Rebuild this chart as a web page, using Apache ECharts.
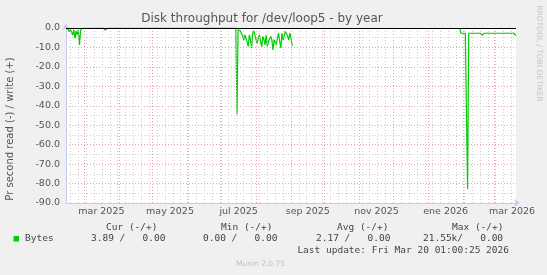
<!DOCTYPE html>
<html>
<head>
<meta charset="utf-8">
<script src="https://cdn.jsdelivr.net/npm/echarts@6/dist/echarts.min.js"></script>
<style>
html,body{margin:0;padding:0;background:#f0f0f0;}
#c{width:547px;height:275px;}
</style>
</head>
<body>
<div id="c"></div>
<script>
// ---- data ----
const rangeStart = '2025-02-13T01:00';
const rangeEnd = '2026-03-20T01:00';
const yTicks = [0, -10, -20, -30, -40, -50, -60, -70, -80, -90];
const monthStarts = ['2025-03-01','2025-04-01','2025-05-01','2025-06-01','2025-07-01','2025-08-01','2025-09-01','2025-10-01','2025-11-01','2025-12-01','2026-01-01','2026-02-01','2026-03-01','2026-04-01'];
const monthLabels = ['mar 2025','may 2025','jul 2025','sep 2025','nov 2025','ene 2026','mar 2026'];
const monthLabelStarts = ['2025-03-01','2025-05-01','2025-07-01','2025-09-01','2025-11-01','2026-01-01','2026-03-01'];
const firstWeekLine = '2025-02-17';

// daily read values (negated), per segment
const febStart = '2025-02-14';
const febValues = [0, -0.5, -1.9, -0.8, -2, -3.6, -1, -5.3, -1.5, -3.5, -1, -8.7, -1.5, -0.2, 0];
const marStart = '2025-03-18';
const marValues = [0, 0, -1, 0, 0];
const julStart = '2025-07-14';
const julValues = [0, -44.4, -1,
  -1, -1.5, -1, -4, -6.2, -3.5, -2.7, -7, -9.6, -3.5,
  -6, -10.3, -2.7, -1.5, -1, -6, -7.9, -5, -3.6, -7,
  -9.6, -4.3, -6, -8.7, -3.6, -9.6, -7, -6.9, -4.3, -6,
  -11.3, -6, -5, -8.7, -5, -2.7, -7, -10.3, -2.7, -6.2,
  -4, -1.8, -1, -4, -6.2, -2.7, -5, -8.7, -8.7];
const janStart = '2026-01-29';
const janValues = [0, -2.7, -2.7, -2.7, -2.7, -2.7, -2.7, -82.8,
  -2.7, -2.7, -2.7, -2.7, -2.7, -2.7, -2.7, -2.7, -2.7, -2.7, -2.7, -2.7,
  -3.6,
  -2.7, -2.7, -2.7, -2.7, -2.7, -2.7, -2.7, -2.7, -2.7, -2.7, -2.7, -2.7, -2.7, -2.7, -2.7, -2.7,
  -3.6,
  -2.7, -2.7, -2.7, -2.7, -2.7, -2.7, -2.7, -2.7, -2.7, -2.7, -2.7, -2.7,
  -3.9];

const legendHeaders = ['Cur (-/+)', 'Min (-/+)', 'Avg (-/+)', 'Max (-/+)'];
const legendValues = ['3.89 /   0.00', '0.00 /   0.00', '2.17 /   0.00', '21.55k/   0.00'];
const legendName = 'Bytes';
const lastUpdate = 'Last update: Fri Mar 20 01:00:25 2026';
const titleText = 'Disk throughput for /dev/loop5 - by year';
const yName = 'Pr second read (-) / write (+)';

// ---- helpers ----
function ts(s) {
  const [d, t] = s.split('T');
  const [y, m, dd] = d.split('-').map(Number);
  const h = t ? Number(t.split(':')[0]) : 0;
  return Date.UTC(y, m - 1, dd, h);
}
function seg(start, vals) {
  const base = ts(start);
  return vals.map((v, i) => [base + i * 86400000, v]);
}
const gapAfterJul = ts(julStart) + julValues.length * 86400000;
const readData = [].concat(seg(febStart, febValues), seg(marStart, marValues), seg(julStart, julValues),
  [[gapAfterJul, '-']], seg(janStart, janValues));

const xMin = ts(rangeStart), xMax = ts(rangeEnd);
const weekLines = [];
for (let t = ts(firstWeekLine); t < xMax; t += 7 * 86400000) weekLines.push(t);

const RED = '#e7a3a3', GRAY = '#cfcfcf', AXIS = '#c8c8f4', TXT = '#555555';

const chart = echarts.init(document.getElementById('c'), null, {renderer: 'canvas'});
chart.setOption({
  backgroundColor: '#f0f0f0',
  animation: false,
  grid: {left: 66, top: 28, width: 450, height: 175, show: true, backgroundColor: '#ffffff', borderWidth: 0},
  xAxis: {
    type: 'value', min: xMin, max: xMax,
    axisLabel: {show: false}, axisTick: {show: false}, splitLine: {show: false},
    axisLine: {show: true, onZero: false, lineStyle: {color: AXIS, width: 1}, symbol: ['none', 'arrow'], symbolSize: [6, 6], symbolOffset: [0, 4]}
  },
  yAxis: {
    type: 'value', min: -90, max: 0, interval: 10,
    axisLabel: {color: TXT, fontFamily: 'DejaVu Sans', fontSize: 9.5, margin: 6, formatter: v => v.toFixed(1)},
    axisTick: {show: false},
    axisLine: {show: true, lineStyle: {color: AXIS, width: 1}, symbol: ['none', 'arrow'], symbolSize: [6, 6], symbolOffset: [0, 4]},
    splitLine: {show: true, lineStyle: {color: RED, type: [1, 2], width: 1}},
    minorTick: {show: false, splitNumber: 2},
    minorSplitLine: {show: true, lineStyle: {color: GRAY, type: [1, 2], width: 1}}
  },
  series: [
    {
      type: 'line', name: 'grid', data: [], z: 1, silent: true,
      markLine: {
        silent: true, symbol: 'none', label: {show: false}, animation: false,
        data: weekLines.map(t => ({xAxis: t, lineStyle: {color: GRAY, type: [1, 2], width: 1}}))
          .concat(monthStarts.filter(s => ts(s) < xMax).map(s => ({xAxis: ts(s), lineStyle: {color: RED, type: [1, 2], width: 1}})))
      }
    },
    {
      type: 'line', name: legendName, data: readData, z: 3, showSymbol: false, symbol: 'none',
      connectNulls: false,
      lineStyle: {color: '#00cc00', width: 1.2},
      markLine: {
        silent: true, symbol: 'none', label: {show: false},
        data: [{yAxis: 0, lineStyle: {color: '#000000', type: 'solid', width: 1}}]
      }
    }
  ]
});

// labels positioned through the chart's own scales
const graphics = [];
monthLabels.forEach((lab, i) => {
  const s = monthLabelStarts[i];
  const idx = monthStarts.indexOf(s);
  const a = chart.convertToPixel({gridIndex: 0}, [ts(s), -90]);
  const b = chart.convertToPixel({gridIndex: 0}, [ts(monthStarts[idx + 1]), -90]);
  graphics.push({type: 'text', x: (a[0] + b[0]) / 2, y: a[1] + 9, style: {text: lab, fill: TXT, font: '9.5px "DejaVu Sans"', textAlign: 'center', textVerticalAlign: 'middle'}});
});
graphics.push({type: 'text', x: 262, y: 19, style: {text: titleText, fill: TXT, font: '12px "DejaVu Sans"', textAlign: 'center', textVerticalAlign: 'middle'}});
graphics.push({type: 'text', x: 10, y: 129, rotation: Math.PI / 2, style: {text: yName, fill: TXT, font: '10px "DejaVu Sans"', textAlign: 'center', textVerticalAlign: 'middle'}});
graphics.push({type: 'text', x: 538.5, y: 53.5, rotation: -Math.PI / 2, style: {text: 'RRDTOOL / TOBI OETIKER', fill: '#c4c4c4', font: '7.5px "DejaVu Sans"', textAlign: 'center', textVerticalAlign: 'middle'}});
// legend
const MONO = '9.5px "DejaVu Sans Mono"';
const headerX = [106, 221, 337, 452];
const valueX = [91, 203, 316, 423];
legendHeaders.forEach((h, i) => graphics.push({type: 'text', x: headerX[i], y: 228, style: {text: h, fill: '#444', font: MONO, textAlign: 'left', textVerticalAlign: 'middle'}}));
legendValues.forEach((v, i) => graphics.push({type: 'text', x: valueX[i], y: 239, style: {text: v, fill: '#444', font: MONO, textAlign: 'left', textVerticalAlign: 'middle'}}));
graphics.push({type: 'rect', shape: {x: 13.5, y: 236, width: 5.5, height: 5.5}, style: {fill: '#00cc00'}});
graphics.push({type: 'text', x: 25, y: 239, style: {text: legendName, fill: '#444', font: MONO, textAlign: 'left', textVerticalAlign: 'middle'}});
graphics.push({type: 'text', x: 509, y: 251, style: {text: lastUpdate, fill: '#444', font: MONO, textAlign: 'right', textVerticalAlign: 'middle'}});
graphics.push({type: 'text', x: 260.5, y: 264, style: {text: 'Munin 2.0.75', fill: '#c0c0c0', font: '7.5px "DejaVu Sans"', textAlign: 'center', textVerticalAlign: 'middle'}});
chart.setOption({graphic: graphics});
</script>
</body>
</html>
